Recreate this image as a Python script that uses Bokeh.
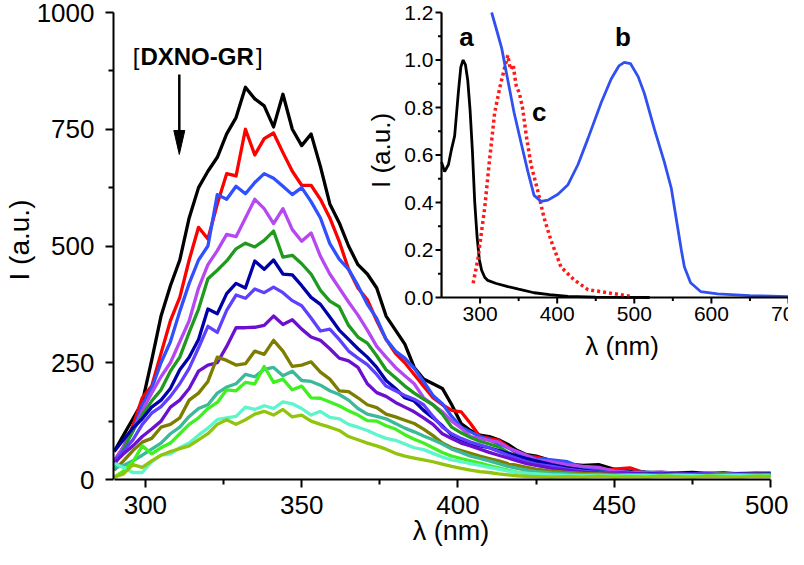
from bokeh.plotting import figure
from bokeh.models import Range1d, FixedTicker
from bokeh.core.properties import value
from bokeh.embed import file_html
from bokeh.resources import INLINE

# ---------------- data ----------------
WAVELENGTH = list(range(290, 426, 3)) + list(range(430, 501, 5))

S_BLACK = [60, 95, 130, 165, 255, 350, 415, 470, 560, 625, 660, 690, 740, 775, 840, 815, 800, 755, 825, 750,
           715, 740, 670, 590, 550, 500, 460, 440, 410, 350, 320, 290, 240, 215, 205, 195, 160, 120, 105, 95,
           92, 85, 75, 62, 53, 50,
           40, 33, 30, 32, 22, 18, 16, 15, 14, 15, 13, 14, 12, 13, 12]
S_RED = [40, 70, 115, 175, 200, 270, 340, 390, 470, 540, 515, 590, 655, 650, 750, 695, 730, 742, 700, 660,
         630, 630, 600, 560, 510, 450, 410, 385, 340, 300, 270, 250, 225, 200, 175, 160, 148, 145, 120, 92,
         88, 84, 70, 55, 50, 48,
         40, 30, 22, 18, 22, 25, 14, 12, 13, 11, 12, 10, 12, 11, 10]
S_BLUE = [35, 70, 104, 160, 195, 250, 295, 360, 420, 470, 500, 610, 600, 628, 612, 636, 655, 645, 628, 610,
          625, 595, 560, 505, 472, 450, 415, 375, 345, 300, 275, 260, 238, 210, 180, 162, 135, 112, 102, 92,
          85, 76, 68, 58, 48, 45,
          42, 38, 25, 20, 18, 15, 16, 13, 14, 12, 13, 11, 12, 12, 11]
S_VIOLET = [40, 70, 104, 147, 185, 220, 250, 295, 340, 410, 460, 490, 525, 520, 560, 600, 580, 548, 580, 535,
            510, 528, 478, 440, 410, 380, 352, 320, 285, 262, 240, 222, 205, 175, 160, 145, 125, 110, 92, 88,
            84, 80, 68, 60, 52, 42,
            38, 32, 28, 26, 18, 15, 14, 16, 13, 12, 14, 12, 13, 14, 13]
S_GREEN = [30, 65, 104, 138, 168, 192, 232, 262, 315, 365, 430, 448, 468, 494, 506, 498, 512, 532, 476, 480,
           462, 440, 405, 382, 370, 330, 305, 292, 265, 235, 218, 200, 185, 172, 160, 140, 112, 100, 90, 82,
           76, 70, 58, 48, 42, 36,
           30, 25, 20, 16, 14, 12, 13, 11, 12, 10, 11, 12, 10, 13, 14]
S_NAVY = [60, 85, 110, 130, 155, 170, 195, 235, 262, 300, 365, 355, 398, 420, 410, 468, 450, 470, 440, 438,
          415, 390, 375, 348, 320, 300, 280, 262, 240, 212, 195, 175, 168, 148, 132, 115, 95, 85, 78, 72,
          68, 62, 56, 50, 45, 40,
          32, 25, 20, 16, 14, 13, 12, 13, 11, 12, 11, 10, 12, 11, 12]
S_SLATE = [40, 62, 85, 118, 142, 156, 178, 205, 238, 282, 328, 315, 362, 395, 388, 408, 400, 412, 400, 383,
           372, 346, 318, 322, 300, 275, 260, 246, 225, 200, 190, 180, 172, 160, 135, 112, 98, 88, 80, 74,
           68, 60, 52, 45, 38, 33,
           28, 22, 18, 15, 14, 12, 11, 12, 10, 11, 12, 10, 11, 10, 11]
S_PURPLE = [35, 55, 72, 92, 108, 125, 155, 170, 195, 232, 245, 250, 285, 325, 325, 326, 330, 350, 332, 342,
            322, 305, 298, 280, 260, 254, 240, 205, 186, 178, 165, 155, 145, 132, 118, 98, 88, 78, 72, 65,
            58, 52, 46, 40, 34, 30,
            24, 20, 16, 14, 12, 12, 11, 10, 12, 10, 11, 10, 10, 12, 11]
S_OLIVE = [20, 40, 62, 80, 88, 112, 118, 132, 170, 185, 210, 262, 255, 245, 248, 275, 268, 298, 275, 242,
           245, 252, 230, 215, 190, 188, 175, 160, 154, 140, 134, 127, 120, 108, 94, 78, 68, 62, 56, 50,
           45, 40, 34, 30, 26, 22,
           18, 15, 13, 12, 11, 10, 11, 9, 10, 9, 10, 11, 9, 10, 10]
S_TEAL = [25, 30, 40, 52, 65, 78, 98, 112, 135, 152, 160, 185, 198, 205, 225, 220, 236, 240, 222, 232,
          212, 210, 202, 190, 182, 170, 152, 140, 135, 130, 120, 110, 102, 93, 85, 76, 65, 58, 50, 45,
          40, 34, 28, 24, 20, 17,
          14, 12, 10, 11, 9, 10, 8, 9, 10, 9, 8, 9, 10, 9, 10]
S_LIME = [5, 18, 38, 72, 55, 68, 78, 98, 118, 132, 152, 165, 192, 190, 208, 205, 242, 208, 215, 192,
          200, 175, 174, 166, 158, 147, 138, 126, 125, 115, 108, 96, 86, 78, 68, 58, 50, 45, 40, 35,
          30, 25, 20, 16, 14, 12,
          10, 8, 9, 7, 8, 9, 7, 8, 9, 7, 8, 9, 8, 9, 8]
S_AQUA = [35, 25, 15, 15, 38, 52, 55, 68, 78, 95, 110, 128, 132, 135, 155, 150, 158, 152, 166, 162,
          152, 138, 146, 133, 130, 118, 112, 105, 96, 88, 84, 76, 68, 64, 56, 48, 42, 38, 34, 30,
          26, 22, 18, 15, 13, 12,
          10, 9, 8, 9, 7, 8, 9, 7, 8, 9, 7, 8, 9, 8, 7]
S_YGREEN = [5, 12, 32, 26, 40, 52, 60, 66, 72, 85, 98, 118, 128, 118, 128, 140, 146, 138, 150, 134,
            138, 125, 118, 112, 105, 92, 85, 78, 72, 65, 56, 50, 46, 42, 38, 33, 28, 24, 20, 17,
            15, 12, 10, 8, 7, 6,
            5, 6, 5, 7, 5, 6, 5, 7, 6, 5, 7, 6, 5, 7, 6]

SERIES = [S_BLACK, S_RED, S_BLUE, S_VIOLET, S_GREEN, S_NAVY, S_SLATE, S_PURPLE,
          S_OLIVE, S_TEAL, S_LIME, S_AQUA, S_YGREEN]
COLORS = ["#000000", "#ff0000", "#3050ff", "#b648f2", "#1f9a1f", "#0000a8", "#6040ff",
          "#6c10d0", "#7d7d00", "#3cb89a", "#40f020", "#5cf5cc", "#92c40c"]

X_TICKS = [300, 350, 400, 450, 500]
X_MINOR = [325, 375, 425, 475]
Y_TICKS = [0, 250, 500, 750, 1000]
Y_MINOR = [125, 375, 625, 875]

# inset
A_X = [250, 254, 259, 263, 267, 272, 275, 278, 281, 284, 287, 290, 293, 296, 299, 302, 306, 310, 320, 336,
       350, 370, 390, 414, 450, 520]
A_Y = [0.57, 0.53, 0.56, 0.625, 0.68, 0.87, 0.97, 1.0, 0.98, 0.915, 0.79, 0.62, 0.405, 0.26, 0.16, 0.115,
       0.085, 0.072, 0.06, 0.046, 0.035, 0.02, 0.012, 0.005, 0.002, 0.0]
B_X = [315, 322, 328, 336, 344, 354, 362, 370, 379, 388, 401, 414, 427, 440, 457, 470, 480, 487, 495, 505,
       513, 526, 539, 548, 556, 561, 565, 573, 586, 608, 650, 700]
B_Y = [1.2, 1.12, 1.05, 0.915, 0.78, 0.64, 0.53, 0.43, 0.405, 0.41, 0.435, 0.475, 0.56, 0.67, 0.82, 0.92,
       0.975, 0.99, 0.985, 0.93, 0.86, 0.71, 0.57, 0.46, 0.30, 0.2, 0.128, 0.062, 0.025, 0.015, 0.008, 0.004]
C_X = [291, 297, 302, 306, 312, 319, 326, 332, 336, 338, 340, 343, 345, 347, 351, 355, 360, 366, 375, 383,
       392, 405, 422, 440, 466, 495]
C_Y = [0.06, 0.157, 0.28, 0.377, 0.571, 0.78, 0.89, 0.97, 1.02, 0.98, 0.96, 0.98, 0.93, 0.89, 0.86, 0.8,
       0.68, 0.56, 0.447, 0.335, 0.24, 0.128, 0.074, 0.033, 0.02, 0.005]
IX_TICKS = [300, 400, 500, 600, 700]
IX_MINOR = [350, 450, 550, 650]
IY_TICKS = [0.0, 0.2, 0.4, 0.6, 0.8, 1.0, 1.2]
IY_MINOR = [0.1, 0.3, 0.5, 0.7, 0.9, 1.1]
IX_LIM = (250, 700)
IY_LIM = (0.0, 1.2)

# ---------------- layout (pixels inside the figure) ----------------
W, H = 788, 549
FL, FR, FT, FB = 111, 788, 0, 479
MX = (300, 143, 500, 770)      # value, px, value, px
MY = (0, 479, 1000, 12)
IXM = (250, 440, 700, 788)
IYM = (0.0, 297, 1.2, 12)
FONT = "Liberation Sans"


def at(m, px):
    v0, p0, v1, p1 = m
    return v0 + (px - p0) * (v1 - v0) / (p1 - p0)


def per_px(m):
    v0, p0, v1, p1 = m
    return abs((v1 - v0) / (p1 - p0))


p = figure(width=W, height=H, output_backend="svg", toolbar_location=None,
           x_range=Range1d(at(MX, FL), at(MX, FR)),
           y_range=Range1d(at(MY, FB), at(MY, FT)),
           min_border_left=FL, min_border_right=W - FR,
           min_border_top=FT, min_border_bottom=H - FB,
           x_axis_label="λ (nm)", y_axis_label="I (a.u.)")
p.outline_line_color = None
p.grid.visible = False
p.background_fill_color = "white"
p.border_fill_color = "white"

p.extra_x_ranges = {"ix": Range1d(at(IXM, FL), at(IXM, FR))}
p.extra_y_ranges = {"iy": Range1d(at(IYM, FB), at(IYM, FT))}

# main axes
for ax in (p.xaxis[0], p.yaxis[0]):
    ax.axis_line_width = 2
    ax.major_tick_line_width = 2
    ax.minor_tick_line_width = 2
    ax.major_tick_in = 0
    ax.major_tick_out = 8
    ax.minor_tick_in = 0
    ax.minor_tick_out = 5
    ax.major_label_text_font = FONT
    ax.major_label_text_font_size = "26px"
    ax.major_label_text_color = "black"
    ax.axis_label_text_font = FONT
    ax.axis_label_text_font_style = "normal"
    ax.axis_label_text_color = "black"

p.xaxis[0].bounds = (290, 500)
p.xaxis[0].ticker = FixedTicker(ticks=X_TICKS, minor_ticks=X_MINOR)
p.xaxis[0].major_label_standoff = 8
p.xaxis[0].axis_label_standoff = -1
p.xaxis[0].axis_label_text_font_size = "27px"
p.yaxis[0].bounds = (0, 1000)
p.yaxis[0].ticker = FixedTicker(ticks=Y_TICKS, minor_ticks=Y_MINOR)
p.yaxis[0].major_label_standoff = 11
p.yaxis[0].axis_label_standoff = -1
p.yaxis[0].axis_label_text_font_size = "28px"

# main spectra
for vals, col in zip(SERIES, COLORS):
    p.line(WAVELENGTH, vals, line_color=col, line_width=3.3, line_join="round")

# concentration label and arrow
lab_y = at(MY, 56)
p.text(x=[at(MX, 137)], y=[lab_y], text=["["], text_align="right", text_baseline="middle",
       text_font=value(FONT), text_font_size="24px", text_color="black")
p.text(x=[at(MX, 138)], y=[lab_y], text=["DXNO-GR"], text_align="left", text_baseline="middle",
       text_font=value(FONT), text_font_size="24px", text_font_style="bold", text_color="black")
p.text(x=[at(MX, 254)], y=[lab_y], text=["]"], text_align="left", text_baseline="middle",
       text_font=value(FONT), text_font_size="24px", text_color="black")
ax_x = at(MX, 177)
ay_top, ay_base, ay_tip = at(MY, 74), at(MY, 130), at(MY, 154)
hw = 5.5 * per_px(MX)
p.segment(x0=[ax_x], y0=[ay_top], x1=[ax_x], y1=[ay_base - 2 * per_px(MY)], line_color="black", line_width=2.5)
p.patch([ax_x - hw, ax_x + hw, ax_x], [ay_base, ay_base, ay_tip], fill_color="black", line_color="black")

# ---------------- inset ----------------
R = dict(x_range_name="ix", y_range_name="iy")
dx = per_px(IXM)
dy = per_px(IYM)
p.line(A_X, A_Y, line_color="black", line_width=2.8, **R)
p.line(C_X, C_Y, line_color="#ff1a1a", line_width=3.5, line_dash="3 3", **R)
p.line(B_X, B_Y, line_color="#3050f0", line_width=2.8, **R)

# inset axis lines
p.segment(x0=[IX_LIM[0], IX_LIM[0]], y0=[IY_LIM[0], IY_LIM[0]], x1=[IX_LIM[1], IX_LIM[0]],
          y1=[IY_LIM[0], IY_LIM[1]], line_color="black", line_width=2.2, **R)
# ticks
p.segment(x0=IX_TICKS, y0=[0] * len(IX_TICKS), x1=IX_TICKS, y1=[-6 * dy] * len(IX_TICKS),
          line_color="black", line_width=2, **R)
p.segment(x0=IX_MINOR, y0=[0] * len(IX_MINOR), x1=IX_MINOR, y1=[-3.5 * dy] * len(IX_MINOR),
          line_color="black", line_width=2, **R)
p.segment(x0=[IX_LIM[0]] * len(IY_TICKS), y0=IY_TICKS, x1=[IX_LIM[0] - 6 * dx] * len(IY_TICKS), y1=IY_TICKS,
          line_color="black", line_width=2, **R)
p.segment(x0=[IX_LIM[0]] * len(IY_MINOR), y0=IY_MINOR, x1=[IX_LIM[0] - 3.5 * dx] * len(IY_MINOR), y1=IY_MINOR,
          line_color="black", line_width=2, **R)
# tick labels
p.text(x=IX_TICKS, y=[-16 * dy] * len(IX_TICKS), text=[str(t) for t in IX_TICKS],
       text_align="center", text_baseline="middle", text_font=value(FONT), text_font_size="21px",
       text_color="black", **R)
p.text(x=[IX_LIM[0] - 8 * dx] * len(IY_TICKS), y=IY_TICKS, text=["%.1f" % t for t in IY_TICKS],
       text_align="right", text_baseline="middle", text_font=value(FONT), text_font_size="21px",
       text_color="black", **R)
# inset axis titles
p.text(x=[at(IXM, 621)], y=[at(IYM, 345)], text=["λ (nm)"], text_align="center", text_baseline="alphabetic",
       text_font=value(FONT), text_font_size="26px", text_color="black", **R)
p.text(x=[at(IXM, 379)], y=[at(IYM, 150)], text=["I (a.u.)"], text_align="center", text_baseline="alphabetic",
       angle=1.5708, text_font=value(FONT), text_font_size="26px", text_color="black", **R)
# curve letters
p.text(x=[at(IXM, 465), at(IXM, 622), at(IXM, 538)], y=[at(IYM, 36), at(IYM, 36), at(IYM, 111)],
       text=["a", "b", "c"], text_align="center", text_baseline="middle",
       text_font=value(FONT), text_font_size="26px", text_font_style="bold", text_color="black", **R)

open("out.html", "w").write(file_html(p, INLINE))
